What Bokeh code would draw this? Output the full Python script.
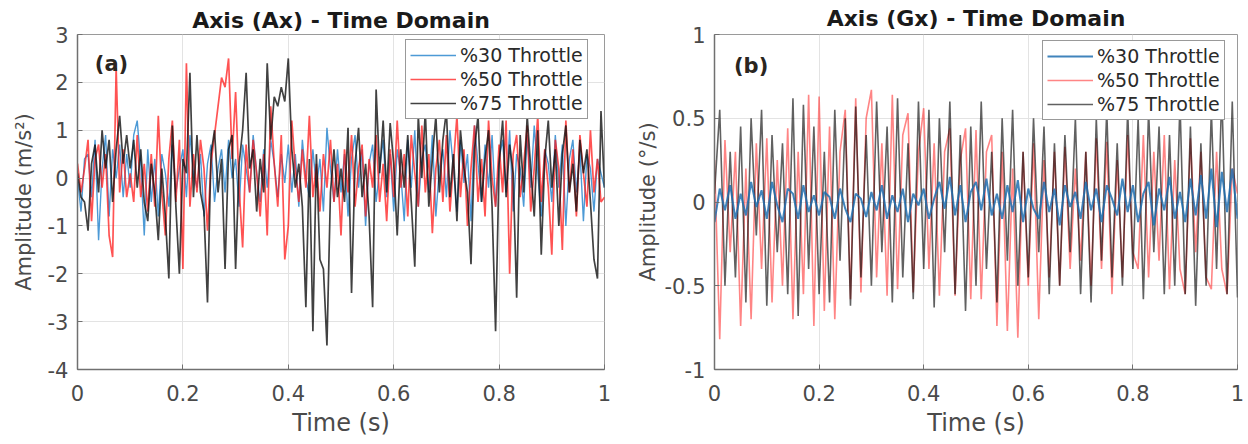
import numpy as np
from bokeh.plotting import figure
from bokeh.layouts import row
from bokeh.models import (Range1d, FixedTicker, CustomJSTickFormatter, Label,
                          Legend, LegendItem)
from bokeh.embed import file_html
from bokeh.resources import INLINE

# ---------------- data ----------------
series_names = ["%30 Throttle", "%50 Throttle", "%75 Throttle"]

# Panel (a): Ax, m/s^2, 151 samples over 1 s
ax_30 = [0.0, -0.7, 0.4, 0.5, -0.4, 0.8, -1.3, 0.2, 0.9, -0.8, 0.6, 0.0, 0.7, -0.4, 0.5,
         -0.2, 0.9, 1.2, 0.3, -1.2, 0.6, -0.5, 0.4, -0.8, 0.5, 0.1, -0.6, 0.7, -0.3, 0.2,
         0.6, -0.4, 0.9, 0.1, -0.2, 0.5, -0.8, 0.3, 0.7, -0.5, 0.2, 0.6, -0.3, 0.8, 0.0,
         0.4, -0.6, 0.7, 0.2, -0.3, 0.9, 0.1, -0.5, 0.6, -0.2, 0.8, 0.3, -0.4, 0.5, -0.1,
         0.7, -0.3, 0.5, -0.6, 0.8, 0.0, -0.4, 0.6, -0.2, 0.4, -0.7, 1.05, 0.2, -0.5, 0.6,
         -0.3, 0.5, -0.8, 0.4, 0.9, -0.2, 0.6, -1.0, 0.3, 0.7, -0.5, 0.2, 0.8, -0.4, 0.5,
         -0.7, 0.6, 0.1, -0.9, 0.8, -0.2, 1.0, -0.6, 0.4, 0.7, -0.3, 0.9, -0.8, 0.2, 0.6,
         -0.4, 1.0, 0.2, -0.7, 0.8, -0.1, 0.5, -0.9, 1.1, 0.3, -0.5, 0.7, -0.2, 0.9, -0.6,
         0.4, 0.8, -0.3, 1.0, -0.7, 0.5, 0.2, -0.6, 0.9, -0.2, 1.1, 0.1, -0.8, 0.6, 0.3,
         -0.5, 0.9, -0.2, 0.7, -1.0, 0.4, 0.8, -0.3, 0.6, -0.9, 0.5, 0.2, -0.7, 0.4, 0.1,
         -0.2]
ax_50 = [0.3, -0.3, 0.2, 0.8, -0.9, 0.4, 0.7, -0.2, 0.5, -1.2, -1.65, 2.3, -0.3, 0.6, -0.4,
         0.1, -0.5, 0.9, -0.4, 0.3, -0.7, 0.5, -0.6, 1.3, -0.3, -1.2, 0.4, 1.2, -0.5, 0.8,
         -1.9, 2.4, -0.6, 0.5, -0.3, 0.8, 0.2, -1.1, 0.3, 0.9, 1.5, 2.1, 1.9, 2.5, 0.4,
         1.8, -0.2, -1.45, 0.7, -0.3, 0.8, 0.1, -0.8, 0.5, -1.2, 1.5, 0.3, -0.6, 0.9, -1.7,
         -1.0, 1.2, 0.2, -0.5, 0.6, -0.2, 1.3, -0.4, 0.3, -0.7, 0.5, -0.2, 0.8, -0.5, 0.3,
         -1.2, 0.6, -0.3, 0.9, -0.6, 0.2, 0.7, -0.8, 0.4, -0.2, 0.9, -0.5, 0.3, -0.9, 0.6,
         -0.4, 1.2, -0.2, 0.5, -0.8, 0.9, 0.1, -0.6, 1.1, -0.3, 0.5, -1.15, 0.2, 0.8, -0.5,
         0.9, -0.7, 0.3, 1.3, -0.4, 0.6, -1.0, 0.2, 1.1, -0.5, 0.4, -0.8, 1.2, 0.0, -0.6,
         0.7, -0.3, 1.2, -2.0, 0.5, 0.9, -0.4, 0.3, 1.1, -0.7, 0.2, 1.3, -0.5, 0.6, -0.2,
         -1.6, 0.8, 0.2, -1.5, 1.2, -0.3, 0.6, -0.8, 0.9, 0.1, -0.6, 1.0, -0.3, 0.4, -0.5,
         -0.4]
ax_75 = [0.1, -0.4, -0.5, -1.1, 0.3, 0.7, -0.3, 1.0, 0.2, 0.8, -0.5, 0.6, 1.3, 0.3, 0.9,
         0.2, 0.8, -0.2, 0.6, -0.5, -0.9, 0.3, -0.3, -1.3, 0.2, -0.8, -2.1, 1.1, -0.6, -2.0,
         0.4, 0.1, 2.2, -0.4, 0.9, -0.3, -0.7, -2.6, 0.5, 1.0, -0.3, 0.4, -1.9, 0.6, 0.9,
         -1.9, 0.3, 1.0, 2.2, 0.2, 0.6, -0.7, 0.4, -0.3, 2.4, 0.8, 1.7, 1.5, 1.9, 1.6,
         2.5, 0.6, -0.2, 0.3, -0.6, -2.7, 0.4, -3.2, 0.5, -1.7, -1.9, -3.5, -0.3, 0.6, -0.4,
         0.2, -0.5, 1.05, -2.4, 0.3, 1.05, -0.4, 0.3, -0.8, -2.7, 1.85, 0.1, 1.2, -0.3, 1.15,
         0.3, -1.2, 0.6, -0.2, 0.9, -0.5, -1.85, 1.3, 0.0, 1.4, -0.6, 0.4, 1.3, -0.3, 0.8,
         1.4, -0.4, 0.5, -0.9, 1.0, 0.2, -0.3, -1.8, 0.6, 1.3, -0.5, 0.4, 1.0, -0.6, -3.2,
         0.3, 1.2, -0.4, 0.7, 0.1, -2.5, 0.9, -0.3, 1.3, 0.2, -0.8, 1.0, -1.6, 0.4, 1.2,
         -0.2, 0.6, -1.0, 0.5, 1.1, -0.3, 0.3, -0.7, 0.8, 0.1, 0.6, -0.5, -1.7, -2.1, 1.4,
         -0.2]

# Panel (b): Gx, deg/s, 101 samples over 1 s
gx_30 = [-0.12, 0.08, -0.05, 0.1, -0.1, 0.05, -0.08, 0.12, -0.03, 0.07,
         -0.1, 0.12, -0.02, -0.12, 0.08, 0.05, -0.1, 0.1, -0.06, 0.04,
         -0.08, 0.06, 0.03, -0.1, 0.08, -0.04, -0.12, 0.05, 0.02, -0.09,
         0.06, -0.05, 0.1, -0.1, 0.04, -0.06, 0.08, -0.12, 0.05, -0.02,
         0.08, -0.1, 0.02, 0.12, -0.04, 0.15, -0.08, 0.1, -0.12, 0.06,
         0.12, -0.05, 0.14, -0.08, 0.05, -0.1, 0.1, -0.06, 0.13, -0.12,
         0.08, -0.04, -0.1, 0.12, -0.06, 0.08, -0.14, 0.1, -0.03, 0.06,
         -0.1, 0.12, -0.05, 0.08, -0.12, 0.1, 0.02, -0.08, 0.14, -0.06,
         0.1, -0.12, 0.05, 0.12, -0.14, 0.08, -0.05, 0.15, -0.1, 0.06,
         -0.12, 0.14, -0.08, 0.16, -0.1, 0.2, -0.15, 0.18, -0.06, 0.2,
         -0.1]
gx_50 = [0.25, -0.82, 0.37, -0.3, 0.3, -0.74, 0.2, -0.7, 0.35, -0.4,
         0.38, -0.6, 0.25, -0.5, 0.44, -0.7, 0.3, -0.55, 0.64, -0.74,
         0.63, -0.65, 0.45, -0.7, 0.3, 0.55, -0.58, 0.62, -0.54, 0.5,
         0.67, -0.45, 0.35, -0.56, 0.64, -0.52, 0.4, 0.53, -0.54, 0.3,
         0.56, -0.4, 0.35, -0.56, 0.3, 0.44, -0.56, 0.25, 0.44, -0.58,
         0.43, -0.58, 0.3, 0.4, -0.74, 0.3, -0.77, 0.2, -0.81, 0.3,
         -0.5, 0.35, -0.7, 0.25, -0.45, 0.3, -0.5, 0.33, -0.4, 0.2,
         -0.35, 0.3, -0.5, 0.38, -0.4, 0.36, -0.55, 0.25, -0.45, 0.4,
         -0.3, -0.4, 0.4, -0.45, 0.3, -0.35, 0.4, -0.52, 0.25, -0.4,
         -0.55, 0.38, -0.3, 0.3, -0.45, -0.52, 0.3, -0.4, -0.55, 0.2,
         0.05]
gx_75 = [0.05, 0.55, -0.5, 0.3, -0.45, 0.45, -0.6, 0.5, -0.2, 0.55,
         -0.62, 0.4, -0.3, 0.35, -0.55, 0.62, -0.68, 0.58, -0.4, 0.45,
         -0.55, 0.3, -0.6, 0.55, -0.35, 0.5, -0.62, 0.57, -0.45, 0.4,
         -0.5, 0.6, -0.3, 0.45, -0.6, 0.62, -0.45, 0.35, -0.58, 0.6,
         -0.4, 0.55, -0.63, 0.5, -0.3, 0.6, -0.55, 0.4, -0.65, 0.45,
         -0.5, 0.6, -0.4, 0.3, -0.6, 0.5, -0.35, 0.55, -0.5, 0.3,
         -0.45, 0.5, -0.3, 0.45, -0.55, 0.35, -0.5, 0.4, -0.3, 0.5,
         -0.55, 0.3, -0.6, 0.5, -0.35, 0.55, -0.45, 0.35, -0.5, 0.55,
         -0.4, 0.5, -0.58, 0.55, -0.3, 0.45, -0.55, 0.4, -0.5, 0.6,
         -0.55, 0.45, -0.62, 0.35, -0.5, 0.55, -0.4, 0.66, -0.55, 0.6,
         -0.57]

x_ticks = [0, 0.2, 0.4, 0.6, 0.8, 1]
ya_ticks = [-4, -3, -2, -1, 0, 1, 2, 3]
yb_ticks = [-1, -0.5, 0, 0.5, 1]

FONT = "DejaVu Sans"
fmt = CustomJSTickFormatter(code="return (Math.round(tick*100)/100).toString();")


def style(p, yticks, ylabel, label_standoff, title, title_standoff):
    for ax in (p.xaxis[0], p.yaxis[0]):
        ax.major_label_text_font = FONT
        ax.major_label_text_font_size = "21px"
        ax.major_label_text_color = "#4a4a4a"
        ax.axis_label_text_font = FONT
        ax.axis_label_text_font_style = "normal"
        ax.axis_label_text_color = "#4a4a4a"
        ax.axis_line_color = "#707070"
        ax.axis_line_width = 1.5
        ax.major_tick_in = 5
        ax.major_tick_out = 0
        ax.major_tick_line_color = "#707070"
        ax.minor_tick_line_color = None
        ax.formatter = fmt
    p.xaxis.axis_label_text_font_size = "24px"
    p.yaxis.axis_label_text_font_size = "21px"
    p.xaxis.ticker = FixedTicker(ticks=x_ticks)
    p.yaxis.ticker = FixedTicker(ticks=yticks)
    p.xaxis.axis_label = "Time (s)"
    p.yaxis.axis_label = ylabel
    p.xaxis.major_label_standoff = 15
    p.yaxis.major_label_standoff = 9
    p.xaxis.axis_label_standoff = 5
    p.yaxis.axis_label_standoff = label_standoff
    p.grid.grid_line_color = "#e3e3e3"
    p.grid.grid_line_width = 1
    p.outline_line_color = "#9a9a9a"
    p.outline_line_width = 1
    p.background_fill_color = "white"
    p.border_fill_color = "white"
    p.title.text = title
    p.title.text_font = FONT
    p.title.text_font_style = "bold"
    p.title.text_font_size = "22px"
    p.title.text_color = "#1a1a1a"
    p.title.align = "center"
    p.title.standoff = title_standoff


def add_legend(p, items, x, y):
    leg = Legend(items=items, location=(x, y))
    leg.label_text_font = FONT
    leg.label_text_font_size = "19px"
    leg.label_text_color = "#2a2a2a"
    leg.border_line_color = "#333333"
    leg.border_line_width = 1
    leg.background_fill_color = "white"
    leg.background_fill_alpha = 1.0
    leg.glyph_width = 46
    leg.glyph_height = 22
    leg.label_height = 22
    leg.label_standoff = 4
    leg.padding = 4
    leg.spacing = 2
    leg.margin = 0
    p.add_layout(leg)


# ---------------- panel (a) ----------------
ta = np.linspace(0, 1, len(ax_75))
p1 = figure(width=632, height=444, output_backend="svg", toolbar_location=None,
            x_range=Range1d(0, 1), y_range=Range1d(-4, 3),
            min_border_left=77, min_border_right=28, min_border_top=30,
            min_border_bottom=75)
style(p1, ya_ticks, "Amplitude (m/s²)", 9, "Axis (Ax) - Time Domain", 4)
r30 = p1.line(ta, ax_30, line_color="#3a8fd2", line_width=1.4, line_alpha=0.9)
r50 = p1.line(ta, ax_50, line_color="#ff1a1a", line_width=1.7, line_alpha=0.75)
r75 = p1.line(ta, ax_75, line_color="#111111", line_width=1.7, line_alpha=0.8)
add_legend(p1, [LegendItem(label=series_names[0], renderers=[r30]),
                LegendItem(label=series_names[1], renderers=[r50]),
                LegendItem(label=series_names[2], renderers=[r75])], 328, 250)
p1.add_layout(Label(x=0.0645, y=2.38, text="(a)", text_font=FONT,
                    text_font_style="bold", text_font_size="21px",
                    text_color="#2a2520", text_align="center",
                    text_baseline="middle"))

# ---------------- panel (b) ----------------
tb = np.linspace(0, 1, len(gx_75))
p2 = figure(width=616, height=444, output_backend="svg", toolbar_location=None,
            x_range=Range1d(0, 1), y_range=Range1d(-1, 1),
            min_border_left=79, min_border_right=11, min_border_top=33,
            min_border_bottom=72)
style(p2, yb_ticks, "Amplitude (°/s)", 2, "Axis (Gx) - Time Domain", 7)
s50 = p2.line(tb, gx_50, line_color="#ff2020", line_width=1.6, line_alpha=0.55)
s75 = p2.line(tb, gx_75, line_color="#000000", line_width=1.6, line_alpha=0.62)
s30 = p2.line(tb, gx_30, line_color="#1f6fb0", line_width=2.0, line_alpha=0.85)
add_legend(p2, [LegendItem(label=series_names[0], renderers=[s30]),
                LegendItem(label=series_names[1], renderers=[s50]),
                LegendItem(label=series_names[2], renderers=[s75])], 328, 249)
p2.add_layout(Label(x=0.07, y=0.81, text="(b)", text_font=FONT,
                    text_font_style="bold", text_font_size="21px",
                    text_color="#2a2520", text_align="center",
                    text_baseline="middle"))

layout = row(p1, p2)
open("out.html", "w").write(file_html(layout, INLINE))
